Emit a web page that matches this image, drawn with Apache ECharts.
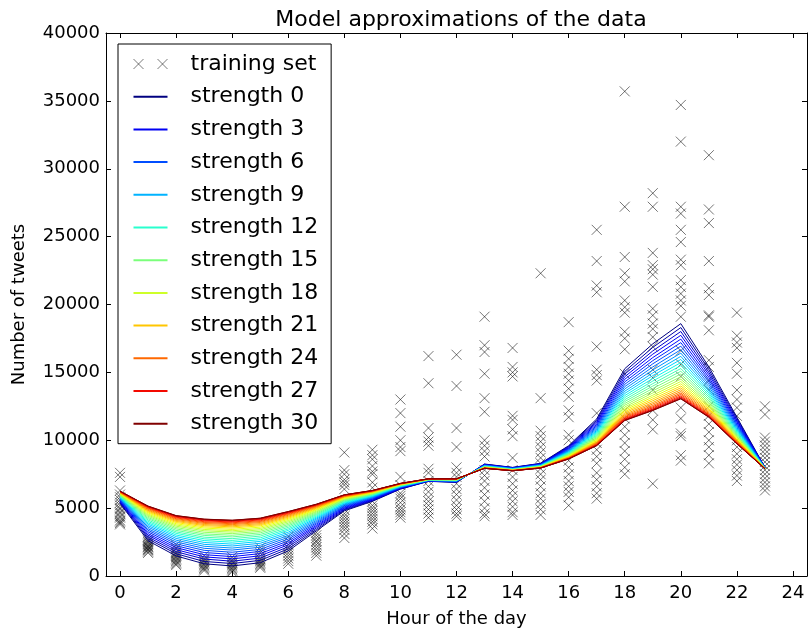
<!DOCTYPE html>
<html>
<head>
<meta charset="utf-8">
<script src="https://cdn.jsdelivr.net/npm/echarts@6/dist/echarts.min.js"></script>
<style>
  html, body { margin: 0; padding: 0; background: #fff; }
  #chart { width: 808px; height: 629px; }
</style>
</head>
<body>
<div id="chart"></div>
<script>
// hours of the day on the x axis
const hours = [0, 1, 2, 3, 4, 5, 6, 7, 8, 9, 10, 11, 12, 13, 14, 15, 16, 17, 18, 19, 20, 21, 22, 23];
const xTicks = [0, 2, 4, 6, 8, 10, 12, 14, 16, 18, 20, 22, 24];
const strengths = [0, 1, 2, 3, 4, 5, 6, 7, 8, 9, 10, 11, 12, 13, 14, 15, 16, 17, 18, 19, 20, 21, 22, 23, 24, 25, 26, 27, 28, 29, 30];
const legendStrengths = [0, 3, 6, 9, 12, 15, 18, 21, 24, 27, 30];

// training set: observed tweet counts per hour
const tweetsH0 = [7600, 7300, 6300, 6000, 5800, 5600, 5400, 5200, 5000, 4900, 4700, 4600, 4400, 4300, 4100, 4000, 3900, 3800];
const tweetsH1 = [2900, 2700, 2600, 2500, 2400, 2300, 2200, 2150, 2100, 2000, 1950, 1900, 1800, 1700];
const tweetsH2 = [2300, 2100, 2000, 1800, 1700, 1600, 1500, 1400, 1300, 1200, 1100, 1000, 900, 800];
const tweetsH3 = [1500, 1300, 1200, 1100, 1000, 900, 800, 700, 600, 500, 400];
const tweetsH4 = [1400, 1200, 1100, 1000, 900, 800, 700, 600, 500, 400, 300];
const tweetsH5 = [2100, 1900, 1700, 1500, 1300, 1200, 1100, 1000, 900, 800, 700, 600];
const tweetsH6 = [2900, 2600, 2300, 2100, 1900, 1700, 1500, 1300, 1100, 900];
const tweetsH7 = [3200, 3000, 2800, 2600, 2500, 2300, 2100, 1900, 1700, 1500];
const tweetsH8 = [9100, 7800, 7500, 7100, 6900, 6700, 6400, 5200, 4900, 4600, 4400, 4200, 4000, 3800, 3600, 3400, 3100, 2800];
const tweetsH9 = [9300, 8900, 8600, 8100, 7700, 7500, 6900, 6500, 5500, 5200, 5000, 4800, 4600, 4400, 4200, 4000, 3800, 3500];
const tweetsH10 = [13000, 12000, 11000, 10000, 9500, 9200, 7300, 6700, 6100, 5900, 5700, 5400, 5100, 4900, 4700, 4500, 4300];
const tweetsH11 = [16200, 14200, 10900, 10200, 9900, 9600, 7900, 7600, 7000, 6600, 6200, 5800, 5500, 5200, 4900, 4600, 4300];
const tweetsH12 = [16300, 14000, 10900, 9500, 8000, 7600, 7300, 6800, 6400, 6000, 5600, 5200, 4900, 4600, 4400];
const tweetsH13 = [19100, 17000, 16500, 14900, 13100, 12100, 10000, 9600, 9200, 8800, 7800, 7400, 7000, 6500, 6000, 5500, 5000, 4600, 4400];
const tweetsH14 = [16800, 15400, 15000, 14700, 11800, 11500, 10800, 10300, 8700, 7800, 7300, 6800, 6300, 5900, 5500, 5100, 4700, 4500];
const tweetsH15 = [22300, 13100, 10700, 10300, 9900, 9500, 9100, 8700, 8300, 7900, 7500, 7100, 6600, 6100, 5700, 5300, 4900, 4500];
const tweetsH16 = [18700, 16600, 16000, 15400, 14900, 14400, 13800, 13200, 12200, 11700, 10400, 10000, 8500, 8000, 7500, 7000, 6600, 6200, 5800, 5200];
const tweetsH17 = [25500, 23200, 21400, 20900, 16900, 15200, 14800, 14400, 12000, 9800, 9300, 8800, 8300, 7600, 7100, 6600, 6100, 5700];
const tweetsH18 = [35700, 27200, 23500, 22300, 21700, 20300, 19800, 19400, 18000, 17500, 16700, 14900, 12200, 11600, 11000, 10400, 9800, 9200, 8600, 8000, 7500];
const tweetsH19 = [28200, 27200, 23800, 22900, 22600, 22200, 21300, 19700, 19200, 18600, 18200, 17600, 16900, 15200, 14600, 13700, 12200, 11500, 10800, 6800];
const tweetsH20 = [34700, 32000, 27200, 26700, 25500, 24600, 23300, 22900, 21800, 21300, 20800, 20300, 19900, 19100, 16600, 15600, 14700, 12400, 11600, 10500, 10300, 8900, 8500];
const tweetsH21 = [31000, 27000, 26000, 23200, 21200, 20700, 19200, 19100, 18100, 15900, 15400, 14400, 13700, 12500, 11800, 11200, 10600, 10000, 9500, 8900, 8300];
const tweetsH22 = [19400, 17700, 17200, 16800, 15700, 14900, 13700, 13000, 12400, 11800, 10000, 9500, 9000, 8600, 8200, 7800, 7400, 7000];
const tweetsH23 = [12500, 11900, 10200, 9900, 9600, 9300, 9000, 8700, 8400, 8100, 7800, 7500, 7200, 6900, 6600, 6300];

// model value at each hour, one entry per strength 0..30
const fitH0 = [5350,5400,5440,5490,5530,5580,5620,5660,5700,5740,5780,5820,5850,5890,5920,5950,5980,6010,6040,6070,6100,6120,6140,6160,6180,6200,6210,6230,6240,6250,6250];
const fitH1 = [2600,2740,2870,3000,3120,3250,3370,3480,3600,3710,3820,3920,4020,4120,4220,4310,4400,4480,4560,4640,4710,4780,4840,4900,4960,5010,5050,5090,5120,5140,5150];
const fitH2 = [1480,1640,1790,1940,2090,2230,2370,2510,2640,2770,2900,3020,3140,3250,3360,3470,3570,3670,3760,3850,3940,4020,4090,4160,4220,4280,4330,4380,4410,4440,4450];
const fitH3 = [900,1070,1250,1410,1570,1730,1890,2040,2190,2330,2470,2610,2740,2860,2990,3100,3220,3330,3430,3530,3620,3710,3790,3870,3940,4000,4060,4110,4150,4180,4190];
const fitH4 = [740,920,1090,1260,1430,1590,1750,1910,2060,2210,2350,2490,2620,2750,2880,3000,3120,3230,3330,3430,3530,3620,3700,3780,3850,3920,3980,4030,4070,4100,4110];
const fitH5 = [980,1150,1320,1490,1650,1810,1960,2120,2260,2410,2550,2680,2810,2940,3060,3180,3290,3400,3500,3600,3700,3780,3860,3940,4010,4070,4130,4180,4220,4250,4260];
const fitH6 = [1850,2000,2150,2300,2440,2580,2720,2850,2980,3110,3230,3360,3470,3580,3690,3790,3890,3990,4080,4170,4250,4330,4400,4470,4530,4590,4630,4680,4710,4740,4750];
const fitH7 = [3320,3420,3530,3630,3720,3820,3910,4000,4090,4180,4260,4340,4420,4500,4570,4640,4710,4770,4840,4890,4950,5000,5050,5100,5140,5180,5210,5240,5260,5280,5290];
const fitH8 = [4800,4860,4920,4980,5040,5100,5150,5210,5260,5310,5360,5410,5460,5500,5550,5590,5630,5670,5710,5740,5780,5810,5840,5860,5890,5910,5930,5950,5970,5980,5980];
const fitH9 = [5500,5540,5580,5620,5660,5700,5740,5780,5810,5850,5880,5920,5950,5980,6010,6040,6060,6090,6120,6140,6160,6180,6200,6220,6240,6250,6270,6280,6290,6300,6300];
const fitH10 = [6400,6420,6440,6470,6490,6510,6530,6550,6560,6580,6600,6620,6630,6650,6670,6680,6700,6710,6720,6740,6750,6760,6770,6780,6790,6800,6800,6810,6820,6820,6820];
const fitH11 = [6970,6980,6990,7000,7010,7020,7030,7040,7040,7050,7060,7070,7080,7080,7090,7100,7100,7110,7120,7120,7130,7130,7140,7140,7150,7150,7150,7160,7160,7160,7160];
const fitH12 = [6900,6910,6930,6940,6950,6970,6980,6990,7000,7010,7020,7040,7050,7060,7070,7070,7080,7090,7100,7110,7120,7120,7130,7140,7140,7150,7150,7150,7160,7160,7160];
const fitH13 = [8250,8230,8220,8200,8180,8170,8150,8140,8130,8110,8100,8080,8070,8060,8050,8040,8020,8010,8000,7990,7990,7980,7970,7960,7950,7950,7940,7940,7930,7930,7930];
const fitH14 = [8000,7990,7970,7960,7950,7940,7930,7910,7900,7890,7880,7870,7860,7850,7840,7830,7820,7820,7810,7800,7790,7790,7780,7780,7770,7760,7760,7760,7750,7750,7750];
const fitH15 = [8300,8280,8260,8250,8230,8210,8200,8180,8160,8150,8130,8120,8110,8090,8080,8070,8050,8040,8030,8020,8010,8000,7990,7980,7980,7970,7960,7960,7960,7950,7950];
const fitH16 = [9600,9550,9500,9450,9400,9350,9310,9260,9220,9170,9130,9090,9050,9020,8980,8940,8910,8880,8850,8820,8790,8760,8740,8720,8690,8680,8660,8650,8630,8620,8620];
const fitH17 = [11570,11470,11360,11270,11170,11070,10980,10890,10800,10710,10630,10550,10470,10390,10320,10250,10180,10120,10060,10000,9940,9890,9840,9790,9750,9710,9680,9650,9630,9610,9600];
const fitH18 = [15270,15070,14870,14680,14490,14300,14120,13950,13780,13610,13450,13290,13140,12990,12850,12710,12580,12450,12330,12220,12110,12010,11910,11820,11740,11670,11600,11550,11500,11470,11450];
const fitH19 = [17100,16840,16580,16340,16090,15860,15630,15400,15180,14960,14760,14550,14360,14170,13990,13810,13640,13480,13320,13180,13040,12910,12780,12670,12560,12470,12390,12310,12250,12210,12190];
const fitH20 = [18590,18300,18010,17730,17450,17190,16930,16670,16420,16180,15950,15720,15500,15280,15080,14880,14680,14500,14330,14160,14000,13860,13720,13590,13470,13370,13270,13190,13120,13070,13050];
const fitH21 = [15400,15200,15010,14830,14640,14460,14290,14120,13950,13790,13630,13480,13330,13190,13050,12910,12780,12660,12550,12440,12330,12230,12140,12050,11970,11900,11840,11780,11740,11710,11690];
const fitH22 = [11700,11600,11490,11400,11300,11200,11110,11020,10930,10840,10760,10680,10600,10520,10450,10380,10310,10250,10190,10130,10070,10020,9970,9920,9880,9840,9810,9780,9760,9740,9730];
const fitH23 = [8000,7990,7990,7980,7980,7970,7970,7970,7960,7960,7950,7950,7940,7940,7940,7930,7930,7930,7920,7920,7920,7910,7910,7910,7910,7910,7900,7900,7900,7900,7900];

const tweetsByHour = [tweetsH0, tweetsH1, tweetsH2, tweetsH3, tweetsH4, tweetsH5, tweetsH6, tweetsH7, tweetsH8, tweetsH9, tweetsH10, tweetsH11,
    tweetsH12, tweetsH13, tweetsH14, tweetsH15, tweetsH16, tweetsH17, tweetsH18, tweetsH19, tweetsH20, tweetsH21, tweetsH22, tweetsH23];
const fitByHour = [fitH0, fitH1, fitH2, fitH3, fitH4, fitH5, fitH6, fitH7, fitH8, fitH9, fitH10, fitH11,
    fitH12, fitH13, fitH14, fitH15, fitH16, fitH17, fitH18, fitH19, fitH20, fitH21, fitH22, fitH23];

// matplotlib "jet" colormap
function jet(t) {
    var r, g, b;
    if (t < 0.35) r = 0; else if (t < 0.66) r = (t - 0.35) / 0.31; else if (t < 0.89) r = 1; else r = 1 - 0.5 * (t - 0.89) / 0.11;
    if (t < 0.125) g = 0; else if (t < 0.375) g = (t - 0.125) / 0.25; else if (t < 0.64) g = 1; else if (t < 0.91) g = 1 - (t - 0.64) / 0.27; else g = 0;
    if (t < 0.11) b = 0.5 + 0.5 * t / 0.11; else if (t < 0.34) b = 1; else if (t < 0.65) b = 1 - (t - 0.34) / 0.31; else b = 0;
    return 'rgb(' + Math.round(r * 255) + ',' + Math.round(g * 255) + ',' + Math.round(b * 255) + ')';
}

const FONT = 'DejaVu Sans';
const xMark = 'path://M0,0L10,10M10,0L0,10';

let scatterData = [];
hours.forEach(function (h, i) {
    tweetsByHour[i].forEach(function (v) { scatterData.push([h, v]); });
});

let series = [{
    name: 'training set',
    type: 'scatter',
    data: scatterData,
    symbol: xMark,
    symbolSize: 10,
    itemStyle: { color: 'rgba(0,0,0,0)', borderColor: 'rgba(0,0,0,0.68)', borderWidth: 1 },
    silent: true
}];
strengths.forEach(function (s) {
    series.push({
        name: 'strength ' + s,
        type: 'line',
        data: hours.map(function (h, i) { return [h, fitByHour[i][s]]; }),
        symbol: 'none',
        showSymbol: false,
        color: jet(s / 30),
        lineStyle: { width: 1, color: jet(s / 30) },
        silent: true
    });
});

// legend: two x marks for the scatter, a plain short bar for each line
let legendData = [{
    name: 'training set',
    icon: 'path://M0,0L10,10M10,0L0,10M24,0L34,10M34,0L24,10',
    itemStyle: { color: 'rgba(0,0,0,0)', borderColor: 'rgba(0,0,0,0.65)', borderWidth: 1 }
}];
legendStrengths.forEach(function (s) {
    legendData.push({
        name: 'strength ' + s,
        icon: 'path://M0,0L34,0L34,2L0,2Z',
        itemStyle: { color: jet(s / 30), borderWidth: 0 }
    });
});

const tickLine = { show: true, inside: true, length: 5, lineStyle: { color: '#000', width: 1 } };
const frameLine = { show: true, onZero: false, lineStyle: { color: '#000', width: 1 } };

var chart = echarts.init(document.getElementById('chart'));
chart.setOption({
    animation: false,
    backgroundColor: '#fff',
    title: {
        text: 'Model approximations of the data',
        left: 456,
        textAlign: 'center',
        top: 4,
        textStyle: { fontFamily: FONT, fontSize: 22, fontWeight: 'normal', color: '#000' }
    },
    grid: { left: 106, right: 1, top: 33, bottom: 53, outerBoundsMode: 'none' },
    legend: {
        data: legendData,
        orient: 'vertical',
        left: 118,
        top: 44,
        itemWidth: 34,
        itemHeight: 10,
        itemGap: 10.7,
        symbolKeepAspect: true,
        padding: [9, 13, 9, 15],
        backgroundColor: '#fff',
        borderColor: '#000',
        borderWidth: 1,
        borderRadius: 0,
        selectedMode: false,
        textStyle: { fontFamily: FONT, fontSize: 22, lineHeight: 22, color: '#000', padding: [0, 0, 0, 18] }
    },
    xAxis: [{
        type: 'value',
        min: -0.5,
        max: 24.5,
        name: 'Hour of the day',
        nameLocation: 'middle',
        nameGap: 34,
        nameTextStyle: { fontFamily: FONT, fontSize: 18, color: '#000' },
        axisLine: frameLine,
        axisTick: Object.assign({ customValues: xTicks }, tickLine),
        axisLabel: { customValues: xTicks, fontFamily: FONT, fontSize: 18, color: '#000', margin: 8 },
        splitLine: { show: false }
    }, {
        type: 'value',
        position: 'top',
        min: -0.5,
        max: 24.5,
        axisLine: frameLine,
        axisTick: Object.assign({ customValues: xTicks }, tickLine),
        axisLabel: { show: false },
        splitLine: { show: false }
    }],
    yAxis: [{
        type: 'value',
        min: 0,
        max: 40000,
        interval: 5000,
        name: 'Number of tweets',
        nameLocation: 'middle',
        nameGap: 78,
        nameTextStyle: { fontFamily: FONT, fontSize: 18, color: '#000' },
        axisLine: frameLine,
        axisTick: tickLine,
        axisLabel: {
            fontFamily: FONT, fontSize: 18, color: '#000', margin: 6,
            formatter: function (value) { return String(value); }
        },
        splitLine: { show: false }
    }, {
        type: 'value',
        position: 'right',
        min: 0,
        max: 40000,
        interval: 5000,
        axisLine: frameLine,
        axisTick: tickLine,
        axisLabel: { show: false },
        splitLine: { show: false }
    }],
    series: series
});
</script>
</body>
</html>
